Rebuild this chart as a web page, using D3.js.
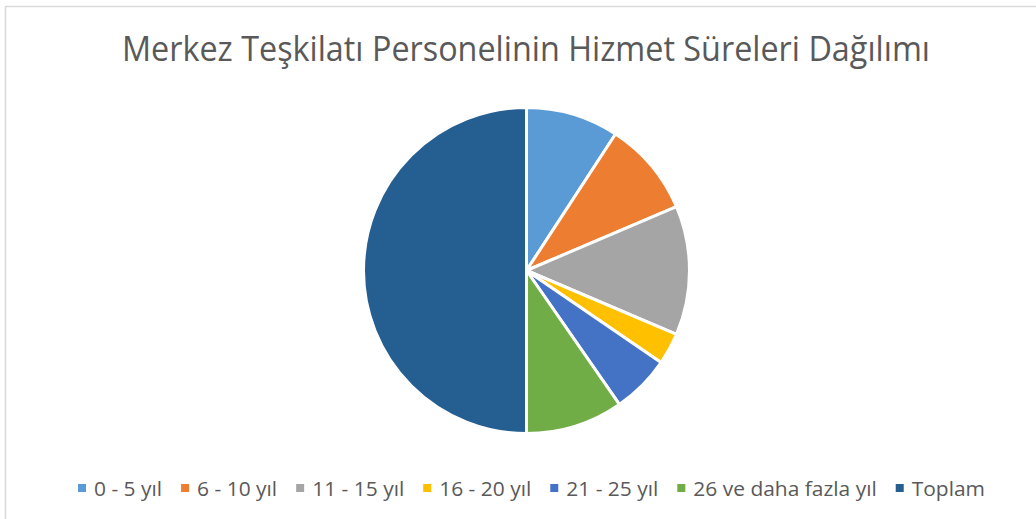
<!DOCTYPE html>
<html>
<head>
<meta charset="utf-8">
<script src="https://cdn.jsdelivr.net/npm/d3@7"></script>
<style>
html,body{margin:0;padding:0;background:#fff;}
svg{display:block;}
</style>
</head>
<body>
<svg id="chart" width="1036" height="519"></svg>
<script>
const title = "Merkez Teşkilatı Personelinin Hizmet Süreleri Dağılımı";
const categories = ["0 - 5 yıl", "6 - 10 yıl", "11 - 15 yıl", "16 - 20 yıl", "21 - 25 yıl", "26 ve daha fazla yıl", "Toplam"];
const values = [184, 188, 256, 63, 116, 193, 1000];
const colors = ["#5B9BD5", "#ED7D31", "#A5A5A5", "#FFC000", "#4472C4", "#70AD47", "#255E91"];

const W = 1036, H = 519;
const svg = d3.select("#chart");
svg.append("rect").attr("x", 0).attr("y", 0).attr("width", W).attr("height", H).attr("fill", "#fff");
svg.append("rect").attr("x", 5.5).attr("y", 6.5).attr("width", W + 20).attr("height", H + 20)
  .attr("fill", "none").attr("stroke", "#d9d9d9").attr("stroke-width", 1.5);

const font = "'Open Sans', 'Noto Sans', sans-serif";

// Title
const t = svg.append("text")
  .attr("x", 526).attr("y", 61)
  .attr("text-anchor", "middle")
  .attr("font-family", font)
  .attr("font-size", 35)
  .attr("fill", "#595959")
  .text(title);
const tw = t.node().getComputedTextLength();
if (tw > 808) t.attr("textLength", 808).attr("lengthAdjust", "spacingAndGlyphs");

// Pie
const cx = 526.5, cy = 270.5, R = 163;
const data = categories.map((c, i) => ({cat: c, value: values[i], color: colors[i]}));
const pie = d3.pie().sort(null).value(d => d.value).startAngle(0).endAngle(2 * Math.PI);
const arc = d3.arc().innerRadius(0).outerRadius(R);
svg.append("g").attr("transform", `translate(${cx},${cy})`)
  .selectAll("path").data(pie(data)).join("path")
  .attr("d", arc)
  .attr("fill", d => d.data.color)
  .attr("stroke", "#fff")
  .attr("stroke-width", 3)
  .attr("stroke-linejoin", "round");

// Legend
const legend = svg.append("g");
const items = legend.selectAll("g").data(data).join("g");
items.append("rect").attr("width", 8).attr("height", 8).attr("y", -12).attr("fill", d => d.color);
const labels = items.append("text")
  .attr("x", 16).attr("y", 0)
  .attr("font-family", font)
  .attr("font-size", 20)
  .attr("fill", "#595959")
  .text(d => d.cat);
const natural = labels.nodes().map(n => n.getComputedTextLength());
const targetTotal = 681;
const sumNat = d3.sum(natural);
const k = targetTotal / sumNat;
const widths = natural.map(w => w * k);
labels.attr("textLength", (d, i) => widths[i]).attr("lengthAdjust", "spacingAndGlyphs");
const gap = 19;
let x = 0;
const xs = widths.map(w => { const p = x; x += 16 + w + gap; return p; });
const total = x - gap;
const startX = 531.5 - total / 2;
items.attr("transform", (d, i) => `translate(${startX + xs[i]},${496})`);
</script>
</body>
</html>
